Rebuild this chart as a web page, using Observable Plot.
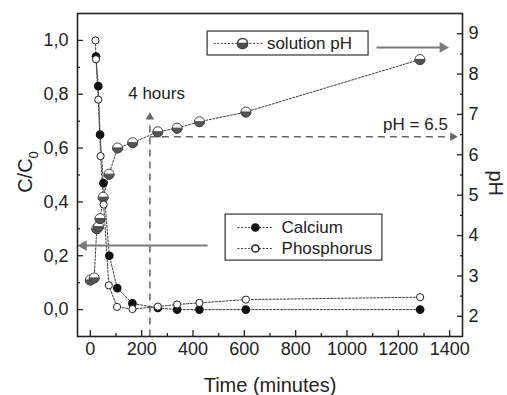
<!DOCTYPE html>
<html><head><meta charset="utf-8">
<script src="https://cdn.jsdelivr.net/npm/d3@7"></script>
<script src="https://cdn.jsdelivr.net/npm/@observablehq/plot@0.6"></script>
<style>body{margin:0;background:#fff}#chart{width:507px;height:395px}</style>
</head><body><div id="chart"></div>
<script>
// ---- data ----
const caTime  = [22, 31, 38, 51, 74, 105, 164, 263, 338, 425, 606, 1285];
const caValue = [0.94, 0.83, 0.65, 0.47, 0.20, 0.08, 0.023, 0.006, 0.0, 0.0, 0.0, 0.0];
const pTime   = [20, 22, 31, 40, 52, 72, 104, 164, 263, 338, 425, 606, 1285];
const pValue  = [1.0, 0.93, 0.78, 0.57, 0.39, 0.09, 0.01, 0.002, 0.011, 0.019, 0.025, 0.037, 0.046];
const phTime  = [0, 15, 25, 32, 38, 50, 73, 106, 165, 263, 338, 425, 606, 1284];
const phValue = [2.9, 2.95, 4.17, 4.22, 4.42, 4.95, 5.52, 6.17, 6.30, 6.57, 6.66, 6.82, 7.06, 8.36];
const xTicks  = [0, 200, 400, 600, 800, 1000, 1200, 1400];
const yTicks  = [0, 0.2, 0.4, 0.6, 0.8, 1.0];
const phTicks = [2, 3, 4, 5, 6, 7, 8, 9];
const legendCP = ["Calcium", "Phosphorus"];
const legendPH = ["solution pH"];
const hoursMark = 232;      // "4 hours" guide (minutes)
const phMark = 6.45;        // "pH = 6.5" guide

// right axis (pH 1.5–9.5) mapped onto the left scale (-0.1–1.1)
const phToY = p => (p - 1.5) / 8 * 1.2 - 0.1;
const yToPh = y => (y + 0.1) / 1.2 * 8 + 1.5;

const ca = caTime.map((t, i) => ({t, v: caValue[i]}));
const ph = pTime.map((t, i) => ({t, v: pValue[i]}));
const sol = phTime.map((t, i) => ({t, v: phToY(phValue[i])}));

const halfSymbol = {draw(ctx, size) {const r = Math.sqrt(size / Math.PI); ctx.moveTo(r, 0); ctx.arc(0, 0, r, 0, Math.PI); ctx.closePath();}};
const dash = "2,1.6", lineCol = "#3a3a3a", arrowCol = "#7a7a7a", guideCol = "#666";
const FS = 17, TFS = 18;

// annotation geometry (data units)
const legPH = {x1: 457, x2: 1084, y1: 0.944, y2: 1.033, ym: 0.989};
const legCP = {x1: 527, x2: 1138, y1: 0.182, y2: 0.353, rows: [0.305, 0.227]};

const chart = Plot.plot({
  width: 507, height: 395,
  marginLeft: 77, marginRight: 45, marginTop: 13, marginBottom: 59,
  style: {fontFamily: "'Liberation Sans', Arial, sans-serif", fontSize: "17px", color: "#222", background: "#fff"},
  x: {domain: [-50, 1450]},
  y: {domain: [-0.1, 1.1]},
  marks: [
    // guides
    Plot.link([0], {x1: hoursMark, x2: hoursMark, y1: -0.1, y2: 0.70, stroke: guideCol, strokeWidth: 1.5, strokeDasharray: "7,5"}),
    Plot.dot([0], {x: hoursMark, y: 0.715, symbol: "triangle", r: 3.2, fill: guideCol}),
    Plot.link([0], {x1: hoursMark, x2: 1405, y1: phToY(phMark), y2: phToY(phMark), stroke: guideCol, strokeWidth: 1.5, strokeDasharray: "7,5"}),
    Plot.dot([0], {x: 1412, y: phToY(phMark), symbol: "triangle", rotate: 90, r: 3.2, fill: guideCol}),
    Plot.text(["4 hours"], {x: 258, y: 0.803, fontSize: FS, fill: "#222"}),
    Plot.text(["pH = 6.5"], {x: 1393, y: 0.688, textAnchor: "end", fontSize: FS, fill: "#222"}),
    // series lines
    Plot.line(sol, {x: "t", y: "v", stroke: lineCol, strokeWidth: 1, strokeDasharray: dash}),
    Plot.line(ca, {x: "t", y: "v", stroke: lineCol, strokeWidth: 1, strokeDasharray: dash}),
    Plot.line(ph, {x: "t", y: "v", stroke: lineCol, strokeWidth: 1, strokeDasharray: dash}),
    // markers
    Plot.dot(sol, {x: "t", y: "v", r: 5, fill: "#fff", stroke: "#444", strokeWidth: 1}),
    Plot.dot(sol, {x: "t", y: "v", r: 5, symbol: halfSymbol, fill: "#555", stroke: "#444", strokeWidth: 1}),
    Plot.dot(ca, {x: "t", y: "v", r: 3.6, fill: "#111", stroke: "#111"}),
    Plot.dot(ph, {x: "t", y: "v", r: 3.6, fill: "#fff", stroke: "#222", strokeWidth: 1}),
    // legend: solution pH
    Plot.rect([legPH], {x1: "x1", x2: "x2", y1: "y1", y2: "y2", fill: "#fff", stroke: "#333", strokeWidth: 1.2}),
    Plot.link([0], {x1: 480, x2: 672, y1: legPH.ym, y2: legPH.ym, stroke: lineCol, strokeDasharray: dash}),
    Plot.dot([0], {x: 593, y: legPH.ym, r: 5, fill: "#fff", stroke: "#444"}),
    Plot.dot([0], {x: 593, y: legPH.ym, r: 5, symbol: halfSymbol, fill: "#555", stroke: "#444"}),
    Plot.text(legendPH, {x: 688, y: legPH.ym, textAnchor: "start", fontSize: FS, fill: "#222"}),
    Plot.link([0], {x1: 1115, x2: 1365, y1: 0.974, y2: 0.974, stroke: arrowCol, strokeWidth: 2}),
    Plot.dot([0], {x: 1373, y: 0.974, symbol: "triangle", rotate: 90, r: 4, fill: arrowCol}),
    // legend: calcium / phosphorus
    Plot.rect([legCP], {x1: "x1", x2: "x2", y1: "y1", y2: "y2", fill: "#fff", stroke: "#333", strokeWidth: 1.2}),
    Plot.link(legCP.rows, {x1: 573, x2: 712, y1: d => d, y2: d => d, stroke: lineCol, strokeDasharray: dash}),
    Plot.dot([legCP.rows[0]], {x: 643, y: d => d, r: 3.6, fill: "#111", stroke: "#111"}),
    Plot.dot([legCP.rows[1]], {x: 643, y: d => d, r: 3.6, fill: "#fff", stroke: "#222"}),
    Plot.text(legendCP, {x: 745, y: (d, i) => legCP.rows[i], textAnchor: "start", fontSize: FS, fill: "#222"}),
    Plot.link([0], {x1: 457, x2: -18, y1: 0.238, y2: 0.238, stroke: arrowCol, strokeWidth: 2}),
    Plot.dot([0], {x: -26, y: 0.238, symbol: "triangle", rotate: -90, r: 4, fill: arrowCol}),
    // axes
    Plot.axisY({anchor: "left", ticks: yTicks, tickSize: -6, tickPadding: 15, strokeWidth: 1.3, fontSize: TFS,
      tickFormat: d => d3.format(".1f")(d).replace(".", ","), label: null}),
    Plot.axisY({anchor: "left", ticks: [0.1, 0.3, 0.5, 0.7, 0.9], tickSize: -3, strokeWidth: 1.3, tickFormat: () => "", label: null}),
    Plot.axisY({anchor: "right", ticks: phTicks.map(phToY), tickSize: -6, tickPadding: 12, strokeWidth: 1.3, fontSize: TFS,
      tickFormat: d => String(Math.round(yToPh(d))), label: null}),
    Plot.axisY({anchor: "right", ticks: [2.5, 3.5, 4.5, 5.5, 6.5, 7.5, 8.5].map(phToY), tickSize: -3, strokeWidth: 1.3, tickFormat: () => "", label: null}),
    Plot.axisX({ticks: xTicks, tickSize: -6, tickPadding: 12, strokeWidth: 1.3, fontSize: TFS, tickFormat: d3.format("d"), label: null}),
    Plot.axisX({ticks: [100, 300, 500, 700, 900, 1100, 1300], tickSize: -3, strokeWidth: 1.3, tickFormat: () => "", label: null}),
    Plot.frame({stroke: "#222", strokeWidth: 1.6}),
    Plot.text(["Time (minutes)"], {frameAnchor: "bottom", dy: 49, lineAnchor: "middle", fontSize: 20, fill: "#222"}),
    Plot.text(["pH"], {frameAnchor: "right", dx: 33, dy: 21, rotate: 90, fontSize: 20, fill: "#222"})
  ]
});
document.getElementById("chart").appendChild(chart);

// left axis title with subscript
const t = d3.select(chart).append("text")
  .attr("transform", "translate(32,172) rotate(-90)")
  .attr("text-anchor", "middle")
  .attr("font-family", "'Liberation Sans', Arial, sans-serif")
  .attr("font-size", 20).attr("fill", "#222");
t.append("tspan").text("C/C");
t.append("tspan").attr("font-size", 13).attr("dy", 6).text("0");
</script>
</body></html>
